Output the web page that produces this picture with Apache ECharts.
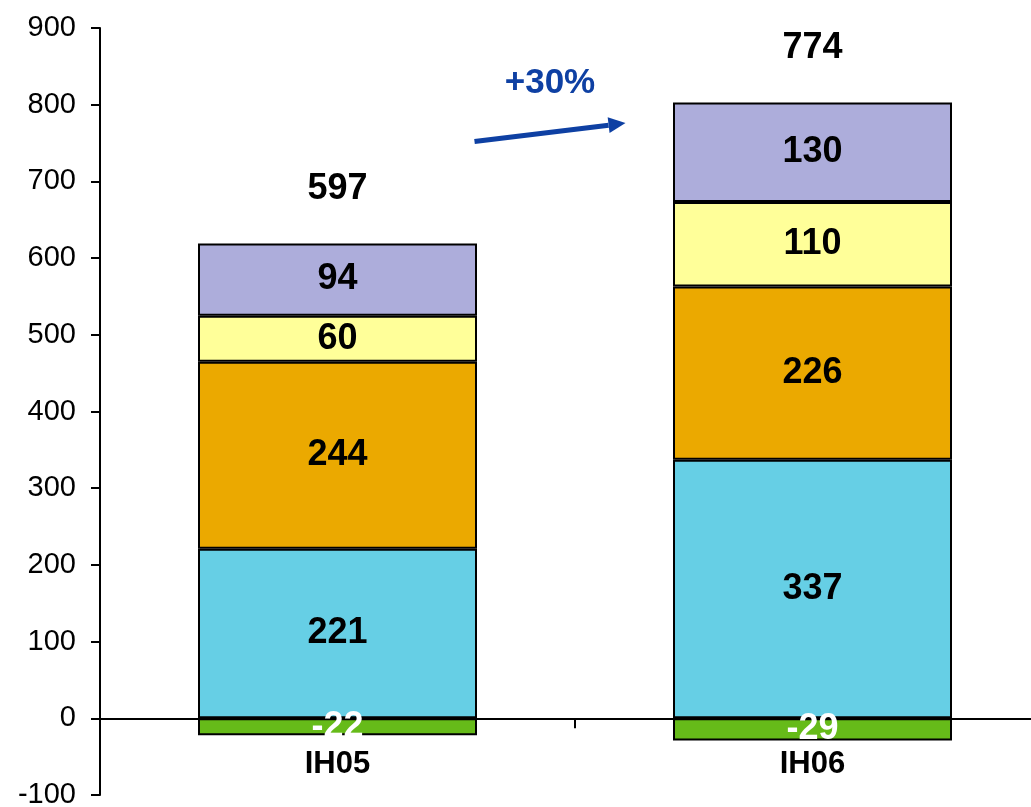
<!DOCTYPE html>
<html>
<head>
<meta charset="utf-8">
<script src="https://cdn.jsdelivr.net/npm/echarts@6/dist/echarts.min.js"></script>
<style>
  html, body { margin: 0; padding: 0; background: #fff; }
  #chart { width: 1031px; height: 807px; }
</style>
</head>
<body>
<div id="chart"></div>
<script>
// Half-year results, stacked by segment
const categories = ['IH05', 'IH06'];
const segGreen    = [-22, -29];
const segCyan     = [221, 337];
const segOrange   = [244, 226];
const segYellow   = [60, 110];
const segLavender = [94, 130];
const totals      = [597, 774];
const growthLabel = '+30%';
const yTicks = { min: -100, max: 900, interval: 100 };

const FONT = '"Liberation Sans", Arial, sans-serif';
const BLUE = '#0E40A3';

// Positive top of each stack, used to anchor the total labels
const stackTops = categories.map((_, i) =>
  segCyan[i] + segOrange[i] + segYellow[i] + segLavender[i]);

function barSeries(name, data, color, labelColor) {
  return {
    name: name,
    type: 'bar',
    stack: 'total',
    barWidth: 279,
    data: data,
    itemStyle: { color: color, borderColor: '#000', borderWidth: 2 },
    label: {
      show: true,
      position: 'inside',
      color: labelColor || '#000',
      fontFamily: FONT,
      fontWeight: 'bold',
      fontSize: 36
    },
    emphasis: { disabled: true },
    z: 6
  };
}

const chart = echarts.init(document.getElementById('chart'), null, { renderer: 'canvas' });

chart.setOption({
  animation: false,
  backgroundColor: '#fff',
  grid: {
    left: 100, right: -19, top: 28, bottom: 12,
    containLabel: false,
    outerBoundsMode: 'none'
  },
  xAxis: {
    type: 'category',
    data: categories,
    axisLine: { onZero: true, lineStyle: { color: '#000', width: 2 } },
    axisTick: { show: true, length: 10, lineStyle: { color: '#000', width: 2 } },
    axisLabel: {
      color: '#000', fontFamily: FONT, fontWeight: 'bold', fontSize: 31, margin: -46
    },
    z: 3
  },
  yAxis: {
    type: 'value',
    min: yTicks.min,
    max: yTicks.max,
    interval: yTicks.interval,
    splitLine: { show: false },
    axisLine: { show: true, lineStyle: { color: '#000', width: 2 } },
    axisTick: { show: true, length: 9, lineStyle: { color: '#000', width: 2 } },
    axisLabel: { color: '#000', fontFamily: FONT, fontSize: 29, margin: 24 }
  },
  series: [
    barSeries('green', segGreen, '#66BB19', '#fff'),
    barSeries('cyan', segCyan, '#66CFE5'),
    barSeries('orange', segOrange, '#EBA900'),
    barSeries('yellow', segYellow, '#FFFF99'),
    barSeries('lavender', segLavender, '#ADADDB'),
    {
      name: 'total',
      type: 'scatter',
      data: stackTops,
      symbolSize: 0,
      silent: true,
      itemStyle: { opacity: 1 },
      label: {
        show: true,
        position: 'top',
        distance: 36,
        color: '#000',
        opacity: 1,
        fontFamily: FONT,
        fontWeight: 'bold',
        fontSize: 36,
        formatter: p => String(totals[p.dataIndex])
      },
      z: 7
    }
  ]
});

// Growth arrow between the two totals
function drawArrow() {
  const p0 = chart.convertToPixel({ gridIndex: 0 }, [0, 752]);
  const p1 = chart.convertToPixel({ gridIndex: 0 }, [1, 776]);
  const x0 = p0[0] + 137, y0 = p0[1];
  const x1 = p1[0] - 187, y1 = p1[1];
  const ang = Math.atan2(y1 - y0, x1 - x0);
  const headLen = 17, headHalf = 8;
  const bx = x1 - headLen * Math.cos(ang), by = y1 - headLen * Math.sin(ang);
  const nx = -Math.sin(ang), ny = Math.cos(ang);
  chart.setOption({
    graphic: [
      {
        type: 'line',
        shape: { x1: x0, y1: y0, x2: bx, y2: by },
        style: { stroke: BLUE, lineWidth: 5 },
        z: 10
      },
      {
        type: 'polygon',
        shape: { points: [[x1, y1], [bx + nx * headHalf, by + ny * headHalf], [bx - nx * headHalf, by - ny * headHalf]] },
        style: { fill: BLUE },
        z: 10
      },
      {
        type: 'text',
        x: (x0 + x1) / 2,
        y: 83,
        style: {
          text: growthLabel,
          fill: BLUE,
          font: 'bold 35px ' + FONT,
          align: 'center',
          verticalAlign: 'middle'
        },
        z: 10
      }
    ]
  });
}
drawArrow();
</script>
</body>
</html>
